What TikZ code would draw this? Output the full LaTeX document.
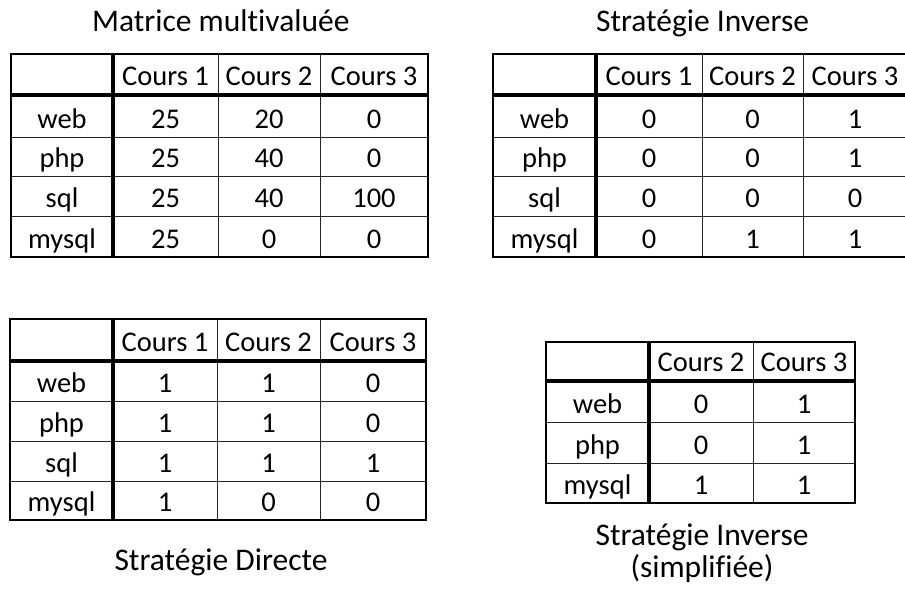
\documentclass[tikz,border=0pt]{standalone}
\usepackage{fontspec}
\setmainfont[Ligatures=NoCommon]{Carlito}
\begin{document}
\begin{tikzpicture}[x=1pt,y=-1pt,
  cell/.style={anchor=base,inner sep=0pt,font=\fontsize{28.5}{30}\selectfont},
  ttl/.style={anchor=base,inner sep=0pt,font=\fontsize{31.5}{38}\selectfont},
  thinline/.style={line width=1pt,draw=black!85},
  thickline/.style={line width=3.8pt,draw=black},
  outerline/.style={line width=2.4pt,draw=black}]
\clip (0,0) rectangle (905,592);
\fill[white] (0,0) rectangle (905,592);

% ---------- Table 1 : Matrice multivaluée ----------
\foreach \x in {218,320} \draw[thinline] (\x,54) -- (\x,257);
\foreach \y in {137,176,216} \draw[thinline] (11,\y) -- (428,\y);
\draw[thickline] (113,54) -- (113,257);
\draw[thickline] (11,95) -- (428,95);
\draw[outerline] (11,54) rectangle (428,257);
\node[cell] (t1-0-1) at (165.5,85) {Cours 1};
\node[cell] (t1-0-2) at (269,85) {Cours 2};
\node[cell] (t1-0-3) at (374,85) {Cours 3};
\foreach \y/\lab/\a/\b/\c [count=\r] in {128/web/25/20/0,167/php/25/40/0,207/sql/25/40/100,248/mysql/25/0/0}{
  \node[cell] (t1-\r-0) at (62,\y) {\lab};
  \node[cell] (t1-\r-1) at (165.5,\y) {\a};
  \node[cell] (t1-\r-2) at (269,\y) {\b};
  \node[cell] (t1-\r-3) at (374,\y) {\c};
}
\node[ttl] (title1) at (220.8,31.7) {Matrice multivaluée};

% ---------- Table 2 : Stratégie Inverse ----------
\foreach \x in {702,803} \draw[thinline] (\x,54) -- (\x,257);
\foreach \y in {137,176,216} \draw[thinline] (493,\y) -- (907,\y);
\draw[thickline] (596,54) -- (596,257);
\draw[thickline] (493,95) -- (907,95);
\draw[outerline] (493,54) rectangle (907,257);
\node[cell] (t2-0-1) at (649,85) {Cours 1};
\node[cell] (t2-0-2) at (752.5,85) {Cours 2};
\node[cell] (t2-0-3) at (855,85) {Cours 3};
\foreach \y/\lab/\a/\b/\c [count=\r] in {128/web/0/0/1,167/php/0/0/1,207/sql/0/0/0,248/mysql/0/1/1}{
  \node[cell] (t2-\r-0) at (544.5,\y) {\lab};
  \node[cell] (t2-\r-1) at (649,\y) {\a};
  \node[cell] (t2-\r-2) at (752.5,\y) {\b};
  \node[cell] (t2-\r-3) at (855,\y) {\c};
}
\node[ttl] (title2) at (702.5,31.7) {Stratégie Inverse};

% ---------- Table 3 : Stratégie Directe ----------
\foreach \x in {217,320} \draw[thinline] (\x,319) -- (\x,520);
\foreach \y in {401,441,481} \draw[thinline] (10,\y) -- (426,\y);
\draw[thickline] (113,319) -- (113,520);
\draw[thickline] (10,361) -- (426,361);
\draw[outerline] (10,319) rectangle (426,520);
\node[cell] (t3-0-1) at (165,351) {Cours 1};
\node[cell] (t3-0-2) at (268.5,351) {Cours 2};
\node[cell] (t3-0-3) at (373,351) {Cours 3};
\foreach \y/\lab/\a/\b/\c [count=\r] in {392/web/1/1/0,432/php/1/1/0,472/sql/1/1/1,511/mysql/1/0/0}{
  \node[cell] (t3-\r-0) at (61.5,\y) {\lab};
  \node[cell] (t3-\r-1) at (165,\y) {\a};
  \node[cell] (t3-\r-2) at (268.5,\y) {\b};
  \node[cell] (t3-\r-3) at (373,\y) {\c};
}
\node[ttl] (title3) at (221,570) {Stratégie Directe};

% ---------- Table 4 : Stratégie Inverse (simplifiée) ----------
\draw[thinline] (753,342) -- (753,503);
\foreach \y in {422,463} \draw[thinline] (546,\y) -- (855,\y);
\draw[thickline] (649,342) -- (649,503);
\draw[thickline] (546,381) -- (855,381);
\draw[outerline] (546,342) rectangle (855,503);
\node[cell] (t4-0-1) at (701,371) {Cours 2};
\node[cell] (t4-0-2) at (804,371) {Cours 3};
\foreach \y/\lab/\a/\b [count=\r] in {413/web/0/1,454/php/0/1,494/mysql/1/1}{
  \node[cell] (t4-\r-0) at (597.5,\y) {\lab};
  \node[cell] (t4-\r-1) at (701,\y) {\a};
  \node[cell] (t4-\r-2) at (804,\y) {\b};
}
\node[ttl] (title4a) at (702,545) {Stratégie Inverse};
\node[ttl] (title4b) at (702,577) {(simplifiée)};
\end{tikzpicture}
\end{document}
